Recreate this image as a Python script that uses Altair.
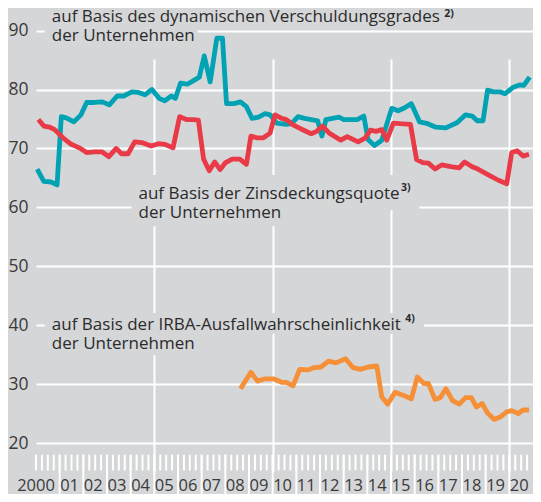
import altair as alt
import pandas as pd

# ---------------- data ----------------
year_labels = ["2000", "01", "02", "03", "04", "05", "06", "07", "08", "09", "10",
               "11", "12", "13", "14", "15", "16", "17", "18", "19", "20"]
y_tick_values = [20, 30, 40, 50, 60, 70, 80, 90]
grid_years = [2005, 2010, 2015, 2020]

# offsets in years from 2000
teal_t = [0.05, 0.33, 0.65, 0.89, 1.07, 1.28, 1.6, 1.9, 2.14, 2.46, 2.8, 3.1, 3.43, 3.7,
          4.05, 4.33, 4.6, 4.9, 5.2, 5.44, 5.72, 5.89, 6.11, 6.39, 6.69, 6.9, 7.11, 7.36,
          7.64, 7.88, 8.05, 8.36, 8.64, 8.89, 9.13, 9.4, 9.68, 9.89, 10.17, 10.58, 10.8,
          11.07, 11.35, 11.63, 11.9, 12.08, 12.25, 12.53, 12.8, 13.01, 13.29, 13.57, 13.85,
          14.03, 14.3, 14.61, 15.03, 15.3, 15.58, 15.86, 16.21, 16.55, 16.9, 17.32, 17.8,
          18.15, 18.43, 18.64, 18.89, 19.08, 19.33, 19.61, 19.82, 20.17, 20.45, 20.61, 20.86]
teal_v = [66.5, 64.4, 64.3, 63.8, 75.4, 75.2, 74.5, 75.7, 77.8, 77.8, 77.9, 77.4, 78.9, 78.9,
          79.6, 79.5, 79.1, 80.0, 78.5, 78.1, 78.9, 78.5, 81.1, 80.9, 81.6, 82.1, 85.7, 81.3,
          88.7, 88.7, 77.6, 77.6, 77.9, 77.1, 75.1, 75.3, 75.9, 75.7, 74.3, 74.1, 74.2,
          75.4, 75.1, 74.9, 74.7, 72.1, 74.9, 75.1, 75.3, 74.9, 74.9, 74.9, 75.5,
          71.5, 70.5, 71.4, 76.8, 76.4, 76.9, 77.6, 74.5, 74.2, 73.6, 73.5, 74.4,
          75.7, 75.5, 74.7, 74.7, 79.9, 79.6, 79.6, 79.3, 80.4, 80.8, 80.7, 82.1]

red_t = [0.1, 0.33, 0.58, 0.79, 1.14, 1.49, 1.83, 2.14, 2.46, 2.8, 3.08, 3.39, 3.61, 3.89,
         4.17, 4.47, 4.86, 5.17, 5.44, 5.79, 6.07, 6.35, 6.63, 6.86, 7.08, 7.32, 7.55, 7.78,
         8.01, 8.29, 8.61, 8.89, 9.08, 9.33, 9.61, 9.89, 10.1, 10.38, 10.58, 10.86, 11.2,
         11.63, 11.86, 12.11, 12.39, 12.88, 13.15, 13.61, 13.92, 14.13, 14.36, 14.61, 14.82,
         15.1, 15.38, 15.82, 16.08, 16.35, 16.58, 16.86, 17.14, 17.53, 17.88, 18.11, 18.43,
         18.67, 19.17, 19.54, 19.89, 20.1, 20.33, 20.58, 20.83]
red_v = [74.9, 73.8, 73.6, 73.2, 71.8, 70.7, 70.1, 69.3, 69.4, 69.4, 68.6, 70.0, 69.1, 69.1,
         71.1, 71.0, 70.4, 70.8, 70.7, 70.1, 75.4, 74.9, 74.9, 74.8, 68.2, 66.2, 67.7, 66.4,
         67.6, 68.2, 68.2, 67.3, 72.1, 71.8, 71.8, 72.6, 75.7, 75.1, 74.9, 74.0, 73.3,
         72.5, 72.9, 73.8, 72.6, 71.4, 72.0, 71.1, 71.8, 73.1, 72.9, 73.2, 71.4,
         74.3, 74.2, 74.1, 68.1, 67.6, 67.5, 66.5, 67.2, 66.9, 66.7, 67.7, 66.9,
         66.5, 65.4, 64.6, 64.0, 69.3, 69.6, 68.7, 69.0]

orange_t = [8.64, 9.08, 9.36, 9.68, 10.03, 10.38, 10.58, 10.86, 11.14, 11.49, 11.76, 12.04,
            12.36, 12.67, 13.08, 13.39, 13.71, 14.05, 14.4, 14.61, 14.86, 15.17, 15.51, 15.86,
            16.11, 16.39, 16.58, 16.86, 17.08, 17.32, 17.6, 17.88, 18.15, 18.39, 18.61, 18.85,
            19.08, 19.36, 19.61, 19.89, 20.1, 20.38, 20.58, 20.83]
orange_v = [29.2, 32.0, 30.5, 30.9, 30.9, 30.3, 30.3, 29.7, 32.5, 32.4, 32.8, 32.9,
            33.9, 33.6, 34.3, 32.8, 32.5, 32.9, 33.1, 27.8, 26.6, 28.6, 28.1, 27.5,
            31.2, 30.1, 30.1, 27.4, 27.7, 29.2, 27.2, 26.6, 27.7, 27.7, 26.1, 26.7,
            25.1, 24.0, 24.4, 25.3, 25.5, 25.0, 25.6, 25.6]

series_names = ["dyn. Verschuldungsgrad", "Zinsdeckungsquote", "IRBA"]
series_colors = ["#00a2b4", "#e93b47", "#f58f38"]

annotation_texts = [
    "auf Basis des dynamischen Verschuldungsgrades\nder Unternehmen",
    "auf Basis der Zinsdeckungsquote\nder Unternehmen",
    "auf Basis der IRBA-Ausfallwahrscheinlichkeit\nder Unternehmen",
]
footnote_marks = ["2)", "3)", "4)"]

# ---------------- styling / layout ----------------
BG = "#d5d6d8"
FONT = "Open Sans"
TEXT = "#2b2b2b"
W, H = 497, 486
Y_TOP, Y_BOT = 22.6, 435.0          # pixel positions of 90 and 20
TICK_TOP, TICK_BOT = 446.7, 462.5
LABEL_Y = 477.5

frames = []
for name, ts, vs in [(series_names[0], teal_t, teal_v),
                     (series_names[1], red_t, red_v),
                     (series_names[2], orange_t, orange_v)]:
    frames.append(pd.DataFrame({"t": [2000 + t for t in ts], "v": vs, "s": name}))
lines_df = pd.concat(frames, ignore_index=True)

xs = alt.Scale(domain=[2000, 2021], nice=False, zero=False)
ys = alt.Scale(domain=[20, 90], range=[Y_BOT, Y_TOP], nice=False, zero=False)

x_axis = alt.Axis(values=grid_years, grid=True, gridColor="white", gridWidth=2,
                  gridOpacity=1, labels=False, ticks=False, domain=False, title=None)
y_axis = alt.Axis(values=y_tick_values, grid=True, gridColor="white", gridWidth=2,
                  gridOpacity=1, ticks=False, domain=False, title=None,
                  labelFont=FONT, labelFontSize=17.5, labelColor="#3a3a3a",
                  labelPadding=8)

X = lambda f: alt.X(f, type="quantitative", scale=xs, axis=x_axis)
Y = lambda f: alt.Y(f, type="quantitative", scale=ys, axis=y_axis)

# masks behind the annotation texts (hide grid lines)
masks_df = pd.DataFrame({
    "x1": [2000.37, 2000.37, 2004.04, 2004.04, 2000.37, 2000.37],
    "x2": [2017.9, 2006.83, 2016.2, 2010.67, 2016.4, 2006.83],
    "y1": [96.0, 90.35, 65.5, 59.5, 42.05, 38.55],
    "y2": [90.35, 87.66, 59.5, 56.8, 38.55, 34.9],
})

ann_df = pd.DataFrame({
    "text": annotation_texts,
    "t": [2000.67, 2004.33, 2000.67],
    "v": [93.75, 63.63, 41.46],
})
sup_df = pd.DataFrame({
    "text": footnote_marks,
    "t": [2017.25, 2015.42, 2015.6],
    "v": [92.82, 63.2, 41.05],
})

quarters_df = pd.DataFrame({"t": [2000 + k / 4 for k in range(84)]})
yearticks_df = pd.DataFrame({"t": list(range(2001, 2021))})
labels_df = pd.DataFrame({
    "text": year_labels,
    "t": [2000.0] + [y + 0.42 for y in range(2001, 2021)],
})

base_grid = alt.Chart(masks_df).mark_rect(fill=BG, stroke=None).encode(
    x=X("x1"), x2="x2", y=Y("y1"), y2="y2"
)

short_ticks = alt.Chart(quarters_df).mark_rule(color="white", strokeWidth=2).encode(
    x=X("t"), y=alt.value(TICK_TOP), y2=alt.value(TICK_BOT)
)
long_ticks = alt.Chart(yearticks_df).mark_rule(color="white", strokeWidth=2).encode(
    x=X("t"), y=alt.value(TICK_TOP), y2=alt.value(H)
)

lines = alt.Chart(lines_df).mark_line(strokeWidth=4.8, strokeJoin="round",
                                      strokeCap="butt").encode(
    x=X("t"), y=Y("v"),
    color=alt.Color("s:N", scale=alt.Scale(domain=series_names, range=series_colors),
                    legend=None),
    detail="s:N",
)

ann = alt.Chart(ann_df).mark_text(align="left", baseline="top", font=FONT,
                                  fontSize=17, lineHeight=19.5, lineBreak="\n",
                                  color=TEXT).encode(
    x=X("t"), y=Y("v"), text="text:N"
)
sup = alt.Chart(sup_df).mark_text(align="left", baseline="middle", font=FONT,
                                  fontSize=10.5, fontWeight="bold", color=TEXT).encode(
    x=X("t"), y=Y("v"), text="text:N"
)

xlabels = alt.Chart(labels_df).mark_text(align="center", baseline="middle", font=FONT,
                                         fontSize=16.5, color="#3a3a3a").encode(
    x=X("t"), y=alt.value(LABEL_Y), text="text:N"
)

chart = alt.layer(base_grid, short_ticks, long_ticks, lines, ann, sup, xlabels).properties(
    width=W, height=H,
    background=BG,
    autosize=alt.AutoSizeParams(type="none"),
    padding={"left": 28, "top": 0, "right": 0, "bottom": 0},
).configure_view(stroke=None, fill=BG)

chart.save("out.html", embed_options={"renderer": "svg", "actions": False})
